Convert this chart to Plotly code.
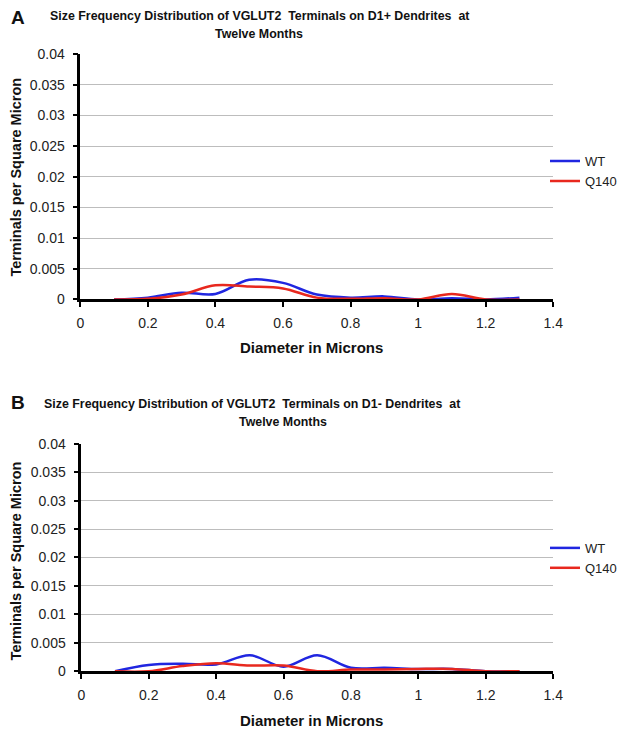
import plotly.graph_objects as go

diam = [0.1, 0.2, 0.3, 0.4, 0.5, 0.6, 0.7, 0.8, 0.9, 1.0, 1.1, 1.2, 1.3]

a_wt = [0, 0.0003, 0.0011, 0.0009, 0.0032, 0.0027, 0.0008, 0.0003, 0.0005, 0, 0.0002, 0, 0.0003]
a_q140 = [0, 0.0001, 0.0008, 0.0023, 0.0021, 0.0018, 0.0003, 0.0001, 0.0002, 0, 0.0009, 0, 0]

b_wt = [0, 0.0011, 0.0013, 0.0012, 0.0028, 0.0008, 0.0028, 0.0006, 0.0006, 0.0004, 0.0004, 0, 0]
b_q140 = [0, 0, 0.0009, 0.0014, 0.001, 0.001, 0, 0.0003, 0.0003, 0.0004, 0.0004, 0, 0]

y_ticks = [0, 0.005, 0.01, 0.015, 0.02, 0.025, 0.03, 0.035, 0.04]
y_labels = ["0", "0.005", "0.01", "0.015", "0.02", "0.025", "0.03", "0.035", "0.04"]
x_ticks = [0, 0.2, 0.4, 0.6, 0.8, 1.0, 1.2, 1.4]
x_labels = ["0", "0.2", "0.4", "0.6", "0.8", "1", "1.2", "1.4"]

# page body keeps its default 8px margin, so the figure is sized to fit the window exactly
OFF = 8
W, H = 630 - 2 * OFF, 743 - 2 * OFF
BLUE = "#2026e0"
RED = "#e8281e"
FONT = "Liberation Sans, Arial, sans-serif"

# calibration from target picture pixels to page pixels
def cx(r):
    return (r - 3.7) / 0.979

def cy(r):
    return (r - 8.3) / 0.976

def px_x(r):
    return (cx(r) - OFF) / W

def px_y(r):
    return 1 - (cy(r) - OFF) / H

fig = go.Figure()
fig.add_trace(go.Scatter(x=diam, y=a_wt, name="WT", mode="lines", line=dict(color=BLUE, width=2.5, shape="spline"),
                         xaxis="x", yaxis="y", legend="legend"))
fig.add_trace(go.Scatter(x=diam, y=a_q140, name="Q140", mode="lines", line=dict(color=RED, width=2.5, shape="spline"),
                         xaxis="x", yaxis="y", legend="legend"))
fig.add_trace(go.Scatter(x=diam, y=b_wt, name="WT", mode="lines", line=dict(color=BLUE, width=2.5, shape="spline"),
                         xaxis="x2", yaxis="y2", legend="legend2"))
fig.add_trace(go.Scatter(x=diam, y=b_q140, name="Q140", mode="lines", line=dict(color=RED, width=2.5, shape="spline"),
                         xaxis="x2", yaxis="y2", legend="legend2"))

xcommon = dict(range=[0, 1.4], tickvals=x_ticks, ticktext=x_labels, showgrid=False, zeroline=False,
               showline=True, linecolor="black", linewidth=2.5, ticks="outside", ticklen=5, tickwidth=2,
               tickcolor="black", ticklabelstandoff=4, tickfont=dict(size=14, color="#222", family=FONT))
ycommon = dict(range=[0, 0.04], tickvals=y_ticks, ticktext=y_labels, showgrid=True, gridcolor="#bdbdbd",
               gridwidth=1, zeroline=False, showline=True, linecolor="black", linewidth=2.5, ticks="outside",
               ticklen=5, tickwidth=2, tickcolor="black", ticklabelstandoff=5,
               tickfont=dict(size=14, color="#222", family=FONT))

fig.update_layout(
    width=W, height=H, margin=dict(l=0, r=0, t=0, b=0),
    plot_bgcolor="white", paper_bgcolor="white",
    font=dict(family=FONT, color="#111"),
    xaxis=dict(domain=[px_x(81), px_x(562)], anchor="y", **xcommon),
    yaxis=dict(domain=[px_y(299), px_y(54)], anchor="x", **ycommon),
    xaxis2=dict(domain=[px_x(82), px_x(562)], anchor="y2", **xcommon),
    yaxis2=dict(domain=[px_y(670), px_y(443)], anchor="x2", **ycommon),
    legend=dict(x=px_x(554), y=px_y(146), xanchor="left", yanchor="top", bgcolor="rgba(0,0,0,0)",
                font=dict(size=13, family=FONT, color="#222"), tracegroupgap=0, itemwidth=30),
    legend2=dict(x=px_x(554), y=px_y(532), xanchor="left", yanchor="top", bgcolor="rgba(0,0,0,0)",
                 font=dict(size=13, family=FONT, color="#222"), tracegroupgap=0, itemwidth=30),
)

ann = []
def text(x, y, s, size=12, bold=True, angle=0, xanchor="center"):
    ann.append(dict(x=px_x(x), y=px_y(y), xref="paper", yref="paper", text=f"<b>{s}</b>" if bold else s,
                    showarrow=False, textangle=angle, xanchor=xanchor, yanchor="middle",
                    font=dict(size=size, family=FONT, color="#111")))

text(18, 18, "A", size=19)
text(263, 16, "Size Frequency Distribution of VGLUT2  Terminals on D1+ Dendrites  at", size=12.4)
text(263, 34, "Twelve Months", size=12.4)
text(16, 177, "Terminals per Square Micron", size=14.5, angle=-90)
text(316, 347, "Diameter in Microns", size=15)

text(18, 402, "B", size=19)
text(256, 403, "Size Frequency Distribution of VGLUT2  Terminals on D1- Dendrites  at", size=12.4)
text(287, 421, "Twelve Months", size=12.4)
text(16, 560, "Terminals per Square Micron", size=14.5, angle=-90)
text(316, 719, "Diameter in Microns", size=15)

fig.update_layout(annotations=ann)
fig.write_html("out.html", config={"displayModeBar": False})
